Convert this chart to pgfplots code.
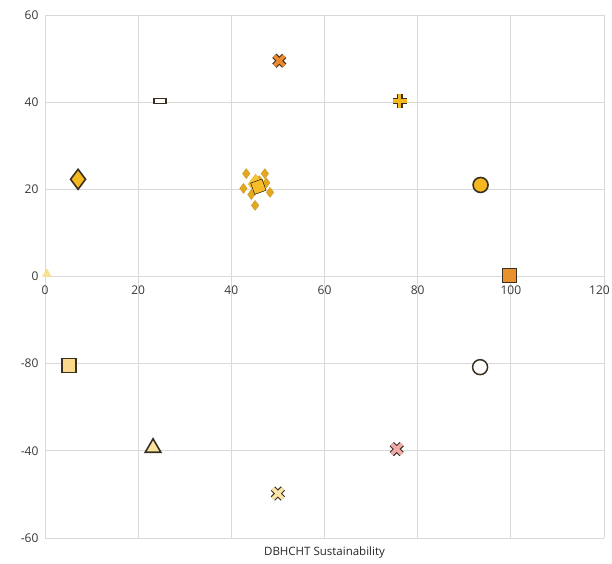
\documentclass[border=0pt]{standalone}
\usepackage{pgfplots}
\pgfplotsset{compat=1.18}
\usepackage{fontspec}
\setmainfont{Open Sans}
\definecolor{gridc}{HTML}{D9D9D9}
\definecolor{orx}{HTML}{EE8A2E}
\definecolor{ydia}{HTML}{F5B820}
\definecolor{gold}{HTML}{E3A820}
\definecolor{bright}{HTML}{F7C530}
\definecolor{osq}{HTML}{E8922E}
\definecolor{lsq}{HTML}{FAD98A}
\definecolor{ltri}{HTML}{FBE2A0}
\definecolor{lx}{HTML}{FAE4A6}
\definecolor{pinkx}{HTML}{F4A9A9}
\definecolor{otri}{HTML}{F7E08E}
\definecolor{edge}{HTML}{3A3020}
\begin{document}
\begin{tikzpicture}
\useasboundingbox (-45pt,-25pt) rectangle (567pt,538pt);
\begin{axis}[
  scale only axis, width=559pt, height=523pt,
  xmin=0, xmax=120, ymin=-60, ymax=60,
  xtick={0,20,40,60,80,100,120},
  xticklabels={0,20,40,60,80,100,\hspace*{-9pt}120},
  ytick={-60,-40,-20,0,20,40,60},
  yticklabels={-60,-40,-80,0,20,40,60},
  axis x line*=middle, axis y line*=left,
  axis line style={draw=gridc,-},
  grid=major, major grid style={gridc, line width=0.8pt},
  major tick length=0pt,
  hide obscured x ticks=false,
  tick label style={font=\fontsize{12}{14}\selectfont, text=black!78},
  xticklabel style={yshift=-6pt},
  yticklabel style={xshift=-3pt},
  /pgf/number format/assume math mode=true,
  clip=false,
]
\node[font=\fontsize{11.5}{13}\selectfont, text=black!85] at (axis cs:60,-60) [yshift=-15pt] {DBHCHT Sustainability};
% orange X
\addplot[only marks, mark=x, mark size=7pt, mark options={line width=6pt, draw=edge}] coordinates {(50.3,49.5)};
\addplot[only marks, mark=x, mark size=7pt, mark options={line width=3.8pt, draw=orx}] coordinates {(50.3,49.5)};
% white dash rectangle
\addplot[only marks, mark=square*, mark size=6pt, mark options={yscale=0.4, fill=white, draw=edge, line width=1.4pt}] coordinates {(24.7,40.3)};
% yellow diamond
\addplot[only marks, mark=diamond*, mark size=10pt, mark options={fill=ydia, draw=edge, line width=1.6pt}] coordinates {(7.1,22.3)};
% plus
\addplot[only marks, mark=+, mark size=7pt, mark options={line width=6pt, draw=edge}] coordinates {(76.1,40.2)};
\addplot[only marks, mark=+, mark size=7pt, mark options={line width=3.8pt, draw=ydia}] coordinates {(76.1,40.2)};
% yellow circle
\addplot[only marks, mark=*, mark size=7.5pt, mark options={fill=ydia, draw=edge, line width=1.6pt}] coordinates {(93.5,21)};
% orange square
\addplot[only marks, mark=square*, mark size=7pt, mark options={fill=osq, draw=edge, line width=1.5pt}] coordinates {(99.7,0.2)};
% small triangle at origin
\addplot[only marks, mark=triangle*, mark size=5pt, mark options={fill=otri, draw=otri}] coordinates {(0.4,0.6)};
% cluster
\addplot[only marks, mark=diamond*, mark size=5pt, mark options={fill=gold, draw=gold!85!black, line width=0.3pt}] coordinates {
(43.2,23.6) (47.2,23.6) (45.1,16.3) (48.3,19.3) (42.6,20.2) (46.0,22.0) (44.3,18.8) (47.5,21.5)};
\addplot[only marks, mark=diamond*, mark size=10pt, mark options={fill=bright, draw=bright!90!black, line width=0.3pt}] coordinates {(45.2,21.2)};
\addplot[only marks, mark=square*, mark size=6pt, mark options={rotate=20, fill=bright!85!orange, draw=none}] coordinates {(45.8,20.6)};
% light square
\addplot[only marks, mark=square*, mark size=7pt, mark options={fill=lsq, draw=edge, line width=1.6pt}] coordinates {(5.2,-20.4)};
% light triangle
\addplot[only marks, mark=triangle*, mark size=9pt, mark options={fill=ltri, draw=edge, line width=1.6pt}] coordinates {(23.2,-39.3)};
% light X
\addplot[only marks, mark=x, mark size=7pt, mark options={line width=6pt, draw=edge}] coordinates {(50,-49.8)};
\addplot[only marks, mark=x, mark size=7pt, mark options={line width=3.8pt, draw=lx}] coordinates {(50,-49.8)};
% white circle
\addplot[only marks, mark=*, mark size=7.5pt, mark options={fill=white, draw=edge, line width=1.5pt}] coordinates {(93.4,-20.8)};
% pink X
\addplot[only marks, mark=x, mark size=7pt, mark options={line width=6pt, draw=edge}] coordinates {(75.5,-39.6)};
\addplot[only marks, mark=x, mark size=7pt, mark options={line width=3.8pt, draw=pinkx}] coordinates {(75.5,-39.6)};
\end{axis}
\end{tikzpicture}
\end{document}
